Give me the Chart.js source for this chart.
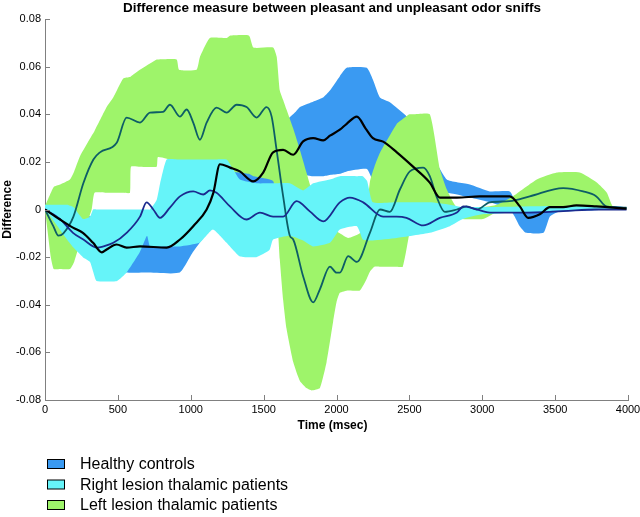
<!DOCTYPE html>
<html><head><meta charset="utf-8">
<script src="https://cdn.jsdelivr.net/npm/chart.js@4.4.1/dist/chart.umd.min.js"></script>
<style>html,body{margin:0;padding:0;background:#fff;}canvas{display:block;}</style>
</head><body>
<canvas id="c" width="640" height="517"></canvas>
<script>
const chartTitle = "Difference measure between pleasant and unpleasant odor sniffs";
const xTitle = "Time (msec)";
const yTitle = "Difference";
const seriesNames = ["Healthy controls", "Right lesion thalamic patients", "Left lesion thalamic patients"];
const xTickValues = [0, 500, 1000, 1500, 2000, 2500, 3000, 3500, 4000];
const xTickLabels = ["0", "500", "1000", "1500", "2000", "2500", "3000", "3500", "4000"];
const yTickValues = [-0.08, -0.06, -0.04, -0.02, 0, 0.02, 0.04, 0.06, 0.08];
const yTickLabels = ["-0.08", "-0.06", "-0.04", "-0.02", "0", "0.02", "0.04", "0.06", "0.08"];

// Healthy controls band
const healthyTimes = [0,100,200,330,450,560,700,925,1014,1152,1300,1450,1560,1650,1720,1750,1830,1907,1955,2023,2070,2208,2250,2298,2366,2483,2560,2640,2757,2915,3052,3189,3223,3257,3300,3420,3463,3520,3700,3900,3990];
const healthyUpper = [0.001,0.0,-0.002,-0.003,-0.004,-0.006,-0.006,-0.006,-0.002,0.005,0.016,0.02,0.03,0.037,0.041,0.043,0.045,0.047,0.050,0.056,0.0595,0.0595,0.0545,0.047,0.045,0.039,0.033,0.025,0.0126,0.0105,0.0076,0.0076,0.004,0.002,0.002,0.002,0.002,0.002,0.002,0.0015,0.001];
const healthyLower = [0,-0.006,-0.012,-0.018,-0.024,-0.0265,-0.0265,-0.0265,-0.018,-0.007,-0.002,0.004,0.008,0.012,0.0155,0.015,0.014,0.014,0.0145,0.015,0.016,0.017,0.012,0.008,0.006,0.005,0.005,0.005,0.007,0.005,0.003,0.0,-0.003,-0.007,-0.0098,-0.0098,-0.003,-0.001,-0.0005,0.0,0.0005];

// Left lesion band
const leftTimes = [0,40,60,103,171,200,240,320,340,423,468,537,583,590,651,766,775,903,920,1040,1063,1131,1246,1268,1400,1430,1565,1590,1611,1634,1657,1703,1749,1794,1830,1886,1932,1977,2000,2023,2080,2160,2200,2230,2260,2300,2414,2455,2500,2525,2640,2709,2757,2826,3004,3100,3210,3374,3512,3669,3786,3855,3896,3990];
const leftUpper = [0.0014,0.007,0.0095,0.0105,0.0126,0.016,0.0224,0.031,0.033,0.043,0.047,0.055,0.0556,0.056,0.0587,0.063,0.063,0.063,0.0587,0.0587,0.064,0.072,0.072,0.073,0.073,0.068,0.068,0.064,0.050,0.046,0.042,0.034,0.025,0.0155,0.008,0.0,-0.004,-0.007,-0.009,-0.010,-0.012,-0.010,-0.004,0.012,0.018,0.024,0.036,0.038,0.040,0.040,0.040,0.017,0.0084,0.001,0.001,0.002,0.0055,0.0126,0.0155,0.0155,0.0113,0.007,0.0013,0.001];
const leftLower = [0,-0.02,-0.025,-0.025,-0.025,-0.022,-0.014,0,0.007,0.007,0.007,0.007,0.007,0.018,0.018,0.018,0.022,0.02,0.018,0.016,0.016,0.016,0.016,0.016,0.015,0.014,0.012,0.0,-0.021,-0.038,-0.050,-0.064,-0.072,-0.075,-0.076,-0.075,-0.064,-0.047,-0.039,-0.035,-0.034,-0.034,-0.030,-0.026,-0.024,-0.024,-0.024,-0.024,-0.010,-0.002,-0.002,-0.003,-0.004,-0.004,-0.004,-0.001,0.0,0.0,0.0,0.0,0.0,0.0,0.0,0.0];

// Right lesion band
const rightTimes = [0,50,151,195,260,309,330,354,494,560,650,700,720,766,790,835,925,1060,1152,1246,1290,1337,1450,1540,1565,1680,1771,1840,1955,2023,2140,2180,2210,2250,2414,2640,2778,2867,3000,3500,3990];
const rightUpper = [0.002,0.002,0.002,0.001,-0.004,-0.003,0.0,0.0,0.0,0.0,0.0,0.0,0.0,0.004,0.011,0.021,0.021,0.021,0.021,0.021,0.017,0.0126,0.011,0.011,0.011,0.011,0.008,0.011,0.0126,0.014,0.014,0.014,0.012,0.003,0.003,0.003,0.002,0.001,0.001,0.0015,0.001];
const rightLower = [0,-0.004,-0.0126,-0.016,-0.02,-0.022,-0.026,-0.030,-0.030,-0.0265,-0.018,-0.011,-0.0155,-0.0155,-0.0155,-0.0155,-0.0155,-0.014,-0.0084,-0.014,-0.017,-0.0197,-0.020,-0.017,-0.0126,-0.011,-0.013,-0.0155,-0.014,-0.0084,-0.007,-0.0126,-0.013,-0.013,-0.012,-0.0098,-0.007,-0.004,-0.002,-0.0005,0.0];

// Mean lines
const healthyMeanTimes = [0,103,192,260,330,390,423,491,560,652,835,926,1017,1109,1155,1200,1270,1337,1428,1497,1565,1634,1703,1771,1840,1909,1955,2023,2070,2140,2200,2250,2320,2414,2525,2640,2709,2826,2983,3189,3258,3315,3395,3464,3555,3646,3783,3990];
const healthyMean = [0,-0.0042,-0.0076,-0.0098,-0.014,-0.018,-0.0168,-0.0147,-0.016,-0.0155,-0.016,-0.0126,-0.007,0,0.007,0.019,0.0176,0.016,0.0118,0.0155,0.024,0.025,0.023,0.0286,0.030,0.029,0.031,0.0335,0.036,0.039,0.034,0.030,0.0285,0.024,0.018,0.0113,0.005,0.005,0.0055,0.0055,0.0013,-0.0035,-0.002,0.001,0.001,0.0017,0.0013,0.0004];
const leftMeanTimes = [0,57,92,126,195,263,332,377,492,560,652,720,810,857,926,972,1017,1063,1109,1177,1246,1315,1383,1452,1520,1555,1589,1634,1680,1703,1771,1840,1886,1955,2000,2023,2080,2140,2229,2298,2366,2435,2503,2595,2640,2686,2743,2826,2894,2963,3052,3189,3326,3555,3692,3783,3851,3990];
const leftMean = [0,-0.007,-0.011,-0.01,-0.003,0.011,0.021,0.024,0.028,0.0386,0.0365,0.0407,0.041,0.044,0.039,0.042,0.0365,0.0293,0.0365,0.0428,0.0407,0.044,0.043,0.0386,0.043,0.039,0.025,0.0055,-0.011,-0.0126,-0.028,-0.039,-0.0335,-0.024,-0.0265,-0.0265,-0.0196,-0.022,-0.0098,0,-0.001,0.0084,0.016,0.0176,0.014,0.0055,-0.001,0,0.0013,0,0.003,0.0035,0.0055,0.009,0.0076,0.0055,0.0013,0.0008];
const rightMeanTimes = [0,103,192,263,357,400,469,560,652,697,743,789,857,926,1017,1086,1132,1177,1269,1383,1475,1565,1634,1726,1817,1909,2023,2092,2183,2320,2412,2480,2595,2709,2826,2870,2938,3052,3326,3555,3783,3990];
const rightMean = [0,-0.004,-0.0098,-0.0126,-0.016,-0.0155,-0.014,-0.0098,-0.003,0.003,0,-0.0035,0.0008,0.0055,0.0076,0.0063,0.008,0.007,0.0013,-0.0042,-0.0013,-0.003,-0.003,0.0035,-0.0008,-0.005,0.003,0.005,0.003,-0.003,-0.003,-0.0035,-0.0067,-0.0035,-0.0013,0.0013,0.0005,-0.0013,-0.0013,-0.0007,0,0];

const COL = {
  healthyBand: '#3a9af2', rightBand: '#66f4f9', leftBand: '#9ef46a',
  healthyLine: '#000000', rightLine: '#1b2a8e', leftLine: '#0d5d66'
};
const FONT = '"Liberation Sans", Arial, sans-serif';

const pts = (ts, vs) => ts.map((t, i) => ({x: t, y: vs[i]}));
const line = (label, ts, vs, color, order, w) => ({
  label, data: pts(ts, vs), borderColor: color, borderWidth: w, pointRadius: 0,
  fill: false, order, cubicInterpolationMode: 'monotone'
});
const band = (label, ts, vs, color, order, target) => ({
  label, data: pts(ts, vs), borderColor: 'rgba(0,0,0,0)', borderWidth: 0, pointRadius: 0,
  backgroundColor: color, fill: target === null ? false : {target}, order, tension: 0.15
});

const datasets = [
  line(seriesNames[0] + ' mean', healthyMeanTimes, healthyMean, COL.healthyLine, 0, 2.2),
  line(seriesNames[1] + ' mean', rightMeanTimes, rightMean, COL.rightLine, 1, 1.8),
  line(seriesNames[2] + ' mean', leftMeanTimes, leftMean, COL.leftLine, 2, 1.8),
  band(seriesNames[1], rightTimes, rightUpper, COL.rightBand, 3, 4),
  band(seriesNames[1] + ' lower', rightTimes, rightLower, COL.rightBand, 3, null),
  band(seriesNames[2], leftTimes, leftUpper, COL.leftBand, 4, 6),
  band(seriesNames[2] + ' lower', leftTimes, leftLower, COL.leftBand, 4, null),
  band(seriesNames[0], healthyTimes, healthyUpper, COL.healthyBand, 5, 8),
  band(seriesNames[0] + ' lower', healthyTimes, healthyLower, COL.healthyBand, 5, null)
];

const labelFor = (vals, labels, v) => {
  const i = vals.findIndex(t => Math.abs(t - v) < 1e-9);
  return i >= 0 ? labels[i] : '';
};

const decor = {
  id: 'decor',
  afterDraw(chart) {
    const {ctx, chartArea: a, scales: {x, y}} = chart;
    ctx.save();
    ctx.strokeStyle = '#808080'; ctx.lineWidth = 1;
    xTickValues.forEach(v => {
      const px = Math.round(x.getPixelForValue(v)) + 0.5;
      ctx.beginPath(); ctx.moveTo(px, a.bottom); ctx.lineTo(px, a.bottom - 5); ctx.stroke();
    });
    yTickValues.forEach(v => {
      const py = Math.round(y.getPixelForValue(v)) + 0.5;
      ctx.beginPath(); ctx.moveTo(a.left, py); ctx.lineTo(a.left + 5, py); ctx.stroke();
    });
    ctx.fillStyle = '#000';
    ctx.textAlign = 'center'; ctx.textBaseline = 'middle';
    ctx.font = 'bold 13.5px ' + FONT;
    ctx.fillText(chartTitle, 332, 8);
    ctx.font = 'bold 12px ' + FONT;
    ctx.fillText(xTitle, (a.left + a.right) / 2 - 4, 426);
    ctx.save();
    ctx.translate(8, (a.top + a.bottom) / 2);
    ctx.rotate(-Math.PI / 2);
    ctx.fillText(yTitle, 0, 0);
    ctx.restore();
    const colors = [COL.healthyBand, COL.rightBand, COL.leftBand];
    ctx.font = '16px ' + FONT;
    ctx.textAlign = 'left';
    seriesNames.forEach((name, i) => {
      const cy = 464 + i * 20.5;
      ctx.fillStyle = colors[i];
      ctx.fillRect(47.5, cy - 4.5, 17, 9);
      ctx.strokeStyle = '#000'; ctx.lineWidth = 1;
      ctx.strokeRect(47.5, cy - 4.5, 17, 9);
      ctx.fillStyle = '#000';
      ctx.fillText(name, 80, cy + 1);
    });
    ctx.restore();
  }
};

new Chart(document.getElementById('c'), {
  type: 'line',
  data: {datasets},
  options: {
    responsive: false, animation: false, devicePixelRatio: 1,
    layout: {padding: {top: 19, right: 12, bottom: 87, left: 0}},
    plugins: {legend: {display: false}, title: {display: false}, tooltip: {enabled: false}},
    scales: {
      x: {
        type: 'linear', min: 0, max: 4000,
        grid: {display: false, drawTicks: false},
        border: {display: true, color: '#808080', width: 1},
        ticks: {stepSize: 500, maxRotation: 0, autoSkip: false, padding: 3, color: '#000', font: {family: FONT, size: 11},
          callback: v => labelFor(xTickValues, xTickLabels, v)},
        afterFit: s => { s.height = 30; s.paddingRight = 0; s.paddingLeft = 0; }
      },
      y: {
        min: -0.08, max: 0.08,
        grid: {display: false, drawTicks: false},
        border: {display: true, color: '#808080', width: 1},
        ticks: {stepSize: 0.02, padding: 4, color: '#000', font: {family: FONT, size: 11},
          callback: v => labelFor(yTickValues, yTickLabels, v)},
        afterFit: s => { s.width = 45; s.paddingTop = 0; s.paddingBottom = 0; }
      }
    }
  },
  plugins: [decor]
});
</script>
</body></html>
